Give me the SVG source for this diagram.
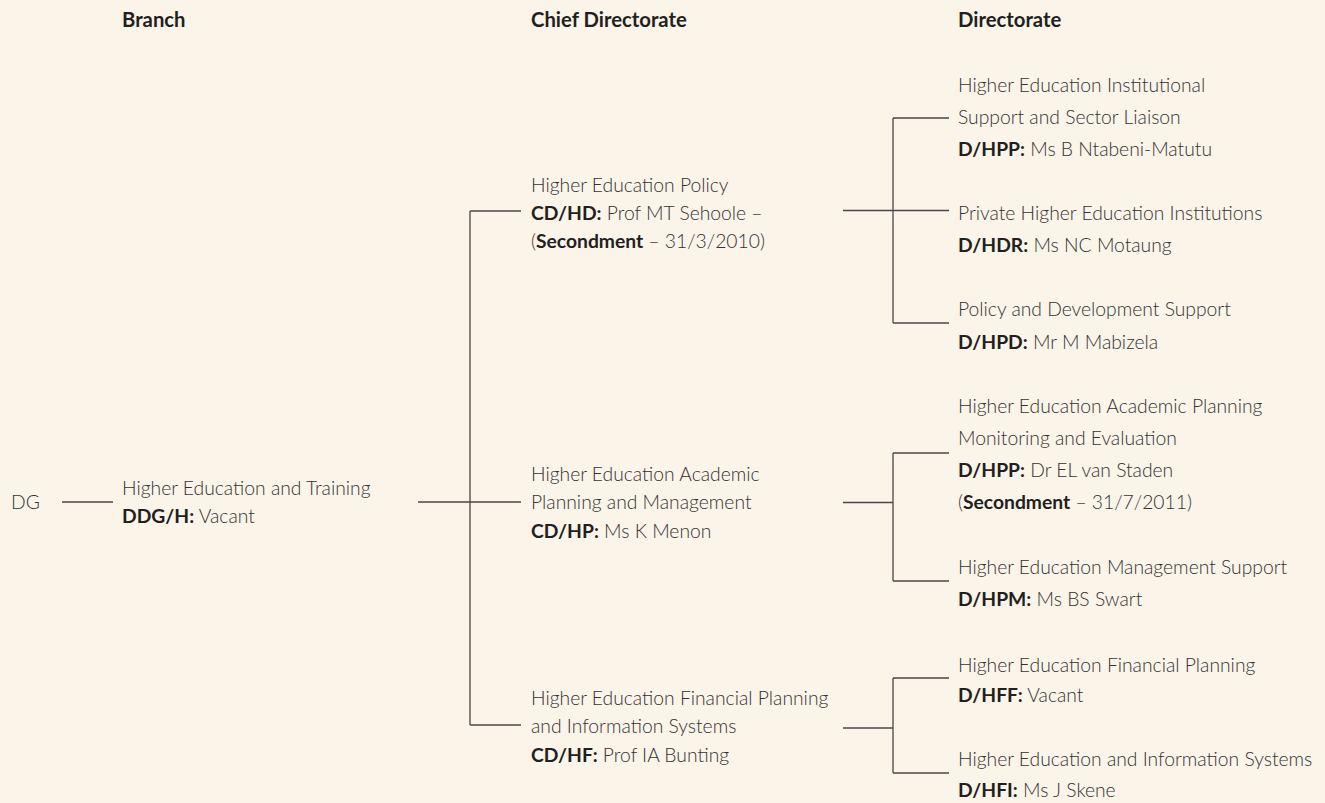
<svg xmlns="http://www.w3.org/2000/svg" width="1325" height="803" viewBox="0 0 1325 803">
<style>
text{font-family:Lato,"Open Sans","Liberation Sans",sans-serif;font-size:19.3px;font-weight:300;fill:#353232}
.b{font-weight:700;fill:#231f20}
.h{font-weight:700;fill:#231f20;font-size:20.3px}
.c line{stroke:#4a4747;stroke-width:1.3;fill:none}
</style>
<rect width="1325" height="803" fill="#faf4e9"/>
<g id="headers">
<text class="h" x="122" y="27">Branch</text>
<text class="h" x="531" y="27">Chief Directorate</text>
<text class="h" x="958" y="27">Directorate</text>
</g>
<g class="c" id="connectors">
<line x1="62" y1="502" x2="113" y2="502"/>
<line x1="418" y1="502" x2="521" y2="502"/>
<line x1="470" y1="211" x2="470" y2="725"/>
<line x1="470" y1="211" x2="521" y2="211"/>
<line x1="470" y1="725" x2="521" y2="725"/>
<line x1="843" y1="210.5" x2="949" y2="210.5"/>
<line x1="893" y1="118" x2="893" y2="323"/>
<line x1="893" y1="118" x2="949" y2="118"/>
<line x1="893" y1="323" x2="949" y2="323"/>
<line x1="843" y1="502.5" x2="893" y2="502.5"/>
<line x1="893" y1="453" x2="893" y2="581"/>
<line x1="893" y1="453" x2="949" y2="453"/>
<line x1="893" y1="581" x2="949" y2="581"/>
<line x1="843" y1="728" x2="893" y2="728"/>
<line x1="893" y1="678" x2="893" y2="773"/>
<line x1="893" y1="678" x2="949" y2="678"/>
<line x1="893" y1="773" x2="949" y2="773"/>
</g>
<g id="dg"><text x="11" y="509">DG</text></g>
<g id="branch">
<text x="122" y="495">Higher Education and Training</text>
<text x="122" y="523"><tspan class="b">DDG/H:</tspan> Vacant</text>
</g>
<g id="cd-hd">
<text x="531" y="192">Higher Education Policy</text>
<text x="531" y="220"><tspan class="b">CD/HD:</tspan> Prof MT Sehoole –</text>
<text x="531" y="248">(<tspan class="b">Secondment</tspan> – 31/3/2010)</text>
</g>
<g id="cd-hp">
<text x="531" y="481">Higher Education Academic</text>
<text x="531" y="509">Planning and Management</text>
<text x="531" y="538"><tspan class="b">CD/HP:</tspan> Ms K Menon</text>
</g>
<g id="cd-hf">
<text x="531" y="705">Higher Education Financial Planning</text>
<text x="531" y="733">and Information Systems</text>
<text x="531" y="762"><tspan class="b">CD/HF:</tspan> Prof IA Bunting</text>
</g>
<g id="d-hpp1">
<text x="958" y="92">Higher Education Institutional</text>
<text x="958" y="124">Support and Sector Liaison</text>
<text x="958" y="156"><tspan class="b">D/HPP:</tspan> Ms B Ntabeni-Matutu</text>
</g>
<g id="d-hdr">
<text x="958" y="220">Private Higher Education Institutions</text>
<text x="958" y="252"><tspan class="b">D/HDR:</tspan> Ms NC Motaung</text>
</g>
<g id="d-hpd">
<text x="958" y="316">Policy and Development Support</text>
<text x="958" y="348.5"><tspan class="b">D/HPD:</tspan> Mr M Mabizela</text>
</g>
<g id="d-hpp2">
<text x="958" y="413">Higher Education Academic Planning</text>
<text x="958" y="445">Monitoring and Evaluation</text>
<text x="958" y="477"><tspan class="b">D/HPP:</tspan> Dr EL van Staden</text>
<text x="958" y="509">(<tspan class="b">Secondment</tspan> – 31/7/2011)</text>
</g>
<g id="d-hpm">
<text x="958" y="574">Higher Education Management Support</text>
<text x="958" y="606"><tspan class="b">D/HPM:</tspan> Ms BS Swart</text>
</g>
<g id="d-hff">
<text x="958" y="672">Higher Education Financial Planning</text>
<text x="958" y="702"><tspan class="b">D/HFF:</tspan> Vacant</text>
</g>
<g id="d-hfi">
<text x="958" y="766">Higher Education and Information Systems</text>
<text x="958" y="797"><tspan class="b">D/HFI:</tspan> Ms J Skene</text>
</g>
</svg>
